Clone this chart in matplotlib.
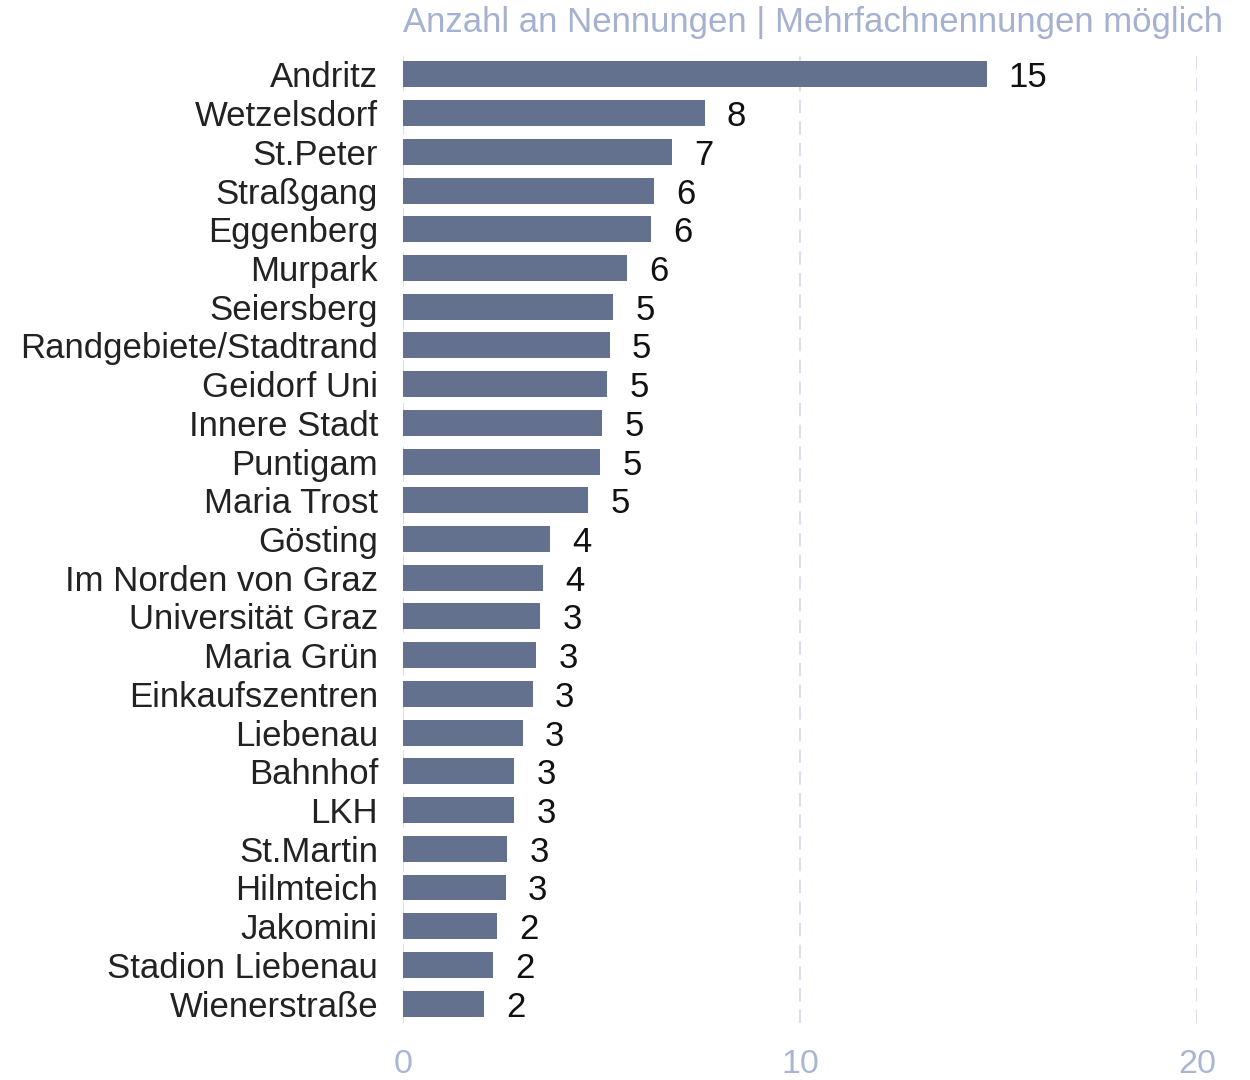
import matplotlib
matplotlib.use("Agg")
import matplotlib.pyplot as plt

plt.rcParams["font.family"] = ["Liberation Sans", "DejaVu Sans"]

# Data (bar lengths, labels as shown)
categories = [
    "Andritz", "Wetzelsdorf", "St.Peter", "Straßgang", "Eggenberg", "Murpark",
    "Seiersberg", "Randgebiete/Stadtrand", "Geidorf Uni", "Innere Stadt",
    "Puntigam", "Maria Trost", "Gösting", "Im Norden von Graz",
    "Universität Graz", "Maria Grün", "Einkaufszentren", "Liebenau",
    "Bahnhof", "LKH", "St.Martin", "Hilmteich", "Jakomini",
    "Stadion Liebenau", "Wienerstraße",
]
values = [
    14.7, 7.6, 6.78, 6.32, 6.25, 5.64, 5.29, 5.21, 5.14, 5.01, 4.96, 4.66,
    3.70, 3.53, 3.45, 3.35, 3.27, 3.02, 2.80, 2.80, 2.62, 2.59, 2.37, 2.27, 2.04,
]
xticks = [0, 10, 20]
title = "Anzahl an Nennungen | Mehrfachnennungen möglich"

bar_color = "#63718f"
grid_color = "#d3d7ea"
tick_color = "#a9b5d2"

fig = plt.figure(figsize=(12.5, 10.8), dpi=100)
ax = fig.add_axes([0.3224, 0.0528, 0.6352, 0.8962])

y = list(range(len(categories)))
ax.barh(y, values, height=0.67, color=bar_color, zorder=3)

for yi, v in zip(y, values):
    ax.annotate(f"{round(v):d}", xy=(v, yi), xytext=(16, 0),
                textcoords="offset points", va="center_baseline", ha="left",
                fontsize=25, color="#111111")

ax.set_xlim(0, 20)
ax.set_ylim(len(categories) - 0.5, -0.5)
ax.set_yticks(y)
ax.set_yticklabels(categories, fontsize=25, color="#222222", va="center_baseline")
ax.set_xticks(xticks)
ax.set_xticklabels([str(t) for t in xticks], fontsize=24.5, color=tick_color)
ax.tick_params(axis="both", length=0)
ax.tick_params(axis="y", pad=18)
ax.tick_params(axis="x", pad=19)

for s in ax.spines.values():
    s.set_visible(False)
ax.grid(axis="x", color=grid_color, linestyle=(0, (8, 5)), linewidth=1.2, zorder=0)

fig.text(0.3224, 0.979, title, ha="left", va="center", fontsize=25, color="#a6b0cf")

fig.savefig("out.png", dpi=100, facecolor="white")
